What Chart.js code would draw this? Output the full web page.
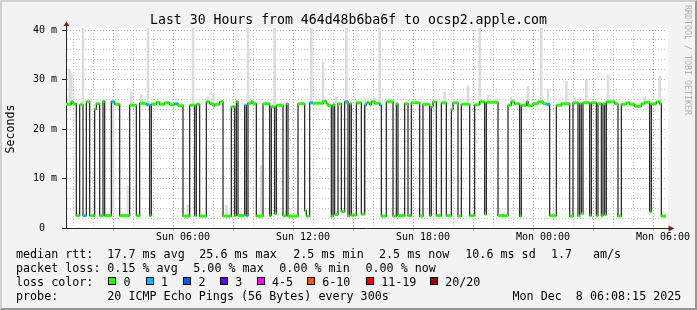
<!DOCTYPE html>
<html>
<head>
<meta charset="utf-8">
<title>Last 30 Hours from 464d48b6ba6f to ocsp2.apple.com</title>
<script src="https://cdn.jsdelivr.net/npm/chart.js@4.4.1/dist/chart.umd.min.js"></script>
<style>
  html, body { margin: 0; padding: 0; background: #f3f3f3; }
  #wrap { position: relative; width: 697px; height: 310px; overflow: hidden;
          font-family: 'DejaVu Sans Mono', monospace; color: #000; }
  #chart { position: absolute; left: 0; top: 0; }
  .title { position: absolute; left: 0; top: 11.5px; width: 697px; text-align: center;
           font-size: 13.2px; line-height: 16px; white-space: pre; }
  .mark { position: absolute; left: 682.5px; top: 5px; writing-mode: vertical-rl;
          font-size: 8.3px; line-height: 10px; color: #b0b0b0; white-space: pre; }
  .row { position: absolute; left: 0; width: 697px; height: 14px; font-size: 11.7px;
         line-height: 14px; white-space: pre; }
  .row span { position: absolute; top: 0; }
  .box { position: absolute; width: 8px; height: 8px; box-sizing: border-box;
         border: 1px solid #000; }
  .frame { position: absolute; left: 0; top: 0; width: 697px; height: 310px; box-sizing: border-box;
           border-top: 2px solid #d0d0d0; border-left: 2px solid #d0d0d0;
           border-right: 2px solid #969696; border-bottom: 2px solid #969696; pointer-events: none; }
</style>
</head>
<body>
<div id="wrap">
  <canvas id="chart" width="697" height="310"></canvas>
  <div class="title">Last 30 Hours from 464d48b6ba6f to ocsp2.apple.com</div>
  <div class="mark">RRDTOOL / TOBI OETIKER</div>
  <div class="row" style="top:246.5px">
    <span style="left:16px">median rtt:</span>
    <span style="left:107.3px">17.7 ms avg</span>
    <span style="left:199.3px">25.6 ms max</span>
    <span style="left:293.3px">2.5 ms min</span>
    <span style="left:379px">2.5 ms now</span>
    <span style="left:465.3px">10.6 ms sd</span>
    <span style="left:551px">1.7</span>
    <span style="left:593px">am/s</span>
  </div>
  <div class="row" style="top:260.6px">
    <span style="left:16px">packet loss:</span>
    <span style="left:107.3px">0.15 % avg</span>
    <span style="left:193.3px">5.00 % max</span>
    <span style="left:279.3px">0.00 % min</span>
    <span style="left:365.5px">0.00 % now</span>
  </div>
  <div class="row" id="lossRow" style="top:274.7px">
    <span style="left:16px">loss color:</span>
  </div>
  <div class="row" style="top:288.8px">
    <span style="left:16px">probe:</span>
    <span style="left:107.3px">20 ICMP Echo Pings (56 Bytes) every 300s</span>
    <span style="left:512.5px">Mon Dec  8 06:08:15 2025</span>
  </div>
  <div class="frame"></div>
</div>
<script>
// ================================
// Datos (minutos desde Sun 00:00)
// ================================
const startMinute = 9;
const endMinute = 1809;

// mediana: cada tramo empieza en segStart y dura hasta el siguiente
const segStart = [
  9, 25, 30, 40, 50, 60, 70, 80, 95, 100, 110, 120, 125, 145, 155, 170, 200, 220, 230, 250,
  260, 265, 280, 290, 305, 320, 335, 345, 360, 380, 395, 400, 410, 430, 440, 450, 455, 470, 480, 505,
  515, 520, 525, 545, 550, 555, 565, 570, 580, 600, 620, 625, 635, 640, 660, 670, 675, 705, 725, 730,
  740, 750, 780, 790, 795, 805, 810, 815, 825, 835, 845, 855, 860, 865, 880, 895, 905, 910, 920, 925,
  935, 950, 955, 970, 990, 1000, 1005, 1025, 1035, 1045, 1070, 1080, 1100, 1105, 1110, 1120, 1135, 1150, 1165, 1170,
  1185, 1195, 1220, 1235, 1250, 1265, 1270, 1305, 1335, 1345, 1355, 1370, 1375, 1390, 1395, 1410, 1425, 1440, 1450, 1460,
  1480, 1495, 1520, 1530, 1545, 1550, 1555, 1560, 1580, 1585, 1600, 1605, 1615, 1620, 1625, 1630, 1655, 1665, 1675, 1690,
  1700, 1715, 1735, 1745, 1760, 1765, 1780, 1790, 1795
];
const segValue = [
  25.0, 25.5, 25.1, 2.5, 24.9, 2.5, 25.5, 2.5, 24.0, 25.1, 2.5, 25.6, 2.5, 25.5, 25.0, 2.5, 24.8, 2.5, 25.2, 24.9,
  2.5, 25.0, 25.4, 25.0, 25.3, 24.9, 25.1, 24.7, 2.4, 24.8, 2.5, 25.0, 2.4, 25.5, 25.1, 24.7, 25.0, 25.5, 2.4, 24.5,
  2.5, 25.5, 2.5, 24.8, 2.5, 25.2, 25.5, 25.1, 2.4, 25.1, 2.5, 24.5, 2.9, 24.8, 2.5, 25.1, 2.4, 25.1, 3.5, 2.4,
  25.3, 25.2, 25.6, 25.1, 24.7, 2.4, 24.9, 2.7, 25.1, 3.3, 25.5, 2.4, 25.1, 2.6, 25.3, 2.8, 24.8, 25.3, 24.9, 25.5,
  25.2, 24.8, 2.4, 25.5, 2.4, 25.1, 2.5, 25.1, 2.5, 25.3, 2.4, 25.0, 2.5, 24.5, 25.5, 2.5, 25.3, 2.5, 24.0, 25.3,
  2.4, 25.0, 2.5, 24.9, 25.5, 2.8, 25.4, 2.5, 24.8, 25.5, 25.1, 2.4, 24.8, 25.5, 24.7, 25.1, 25.5, 25.1, 25.0, 2.5,
  24.8, 25.1, 2.4, 25.3, 2.4, 25.1, 2.9, 25.3, 2.5, 25.3, 2.5, 25.1, 2.5, 25.1, 2.7, 25.5, 25.1, 2.4, 25.0, 25.3,
  25.0, 24.6, 25.1, 25.4, 3.3, 25.1, 25.5, 25.1, 2.4
];
// pings perdidos por tramo (0 = verde, 1 = celeste)
const segLoss = [
  0, 0, 0, 0, 0, 1, 0, 0, 0, 0, 0, 0, 0, 1, 0, 0, 0, 0, 0, 1,
  0, 0, 0, 0, 0, 0, 1, 0, 0, 0, 0, 0, 0, 0, 0, 0, 0, 0, 0, 0,
  0, 0, 0, 1, 1, 0, 0, 0, 0, 0, 0, 0, 0, 0, 0, 0, 0, 0, 0, 0,
  1, 0, 0, 0, 0, 0, 0, 0, 0, 0, 1, 0, 0, 0, 0, 0, 1, 0, 0, 0,
  0, 1, 0, 0, 0, 0, 0, 0, 0, 0, 0, 0, 0, 0, 0, 0, 0, 0, 0, 0,
  0, 0, 0, 0, 0, 0, 0, 0, 0, 0, 0, 0, 0, 0, 0, 0, 0, 0, 1, 0,
  0, 0, 0, 0, 0, 0, 0, 0, 0, 0, 0, 0, 0, 0, 0, 0, 0, 0, 0, 0,
  0, 0, 0, 0, 0, 0, 0, 0, 0
];

// humo (dispersión de los pings)
const smokeTime = [20, 25, 60, 150, 195, 205, 235, 255, 375, 390, 435, 450, 490, 555, 595, 635, 745, 780, 820, 850,
  905, 915, 935, 950, 1145, 1215, 1250, 1275, 1300, 1345, 1395, 1435, 1455, 1510, 1535, 1570, 1635, 1745, 1790];
const smokeLow = [25, 25, 25, 3.3, 2.5, 25, 25, 25, 2.5, 25, 25, 25, 2.5, 25, 2.5, 25, 25, 25, 25, 25,
  3.3, 25, 25, 25, 25, 25, 25, 25, 25, 25, 25, 25, 25, 25, 25, 25, 25, 25, 25];
const smokeHigh = [32.1, 31.2, 41, 26.0, 8.5, 27.5, 26.9, 41, 4.6, 41, 26.5, 27.0, 4.6, 41, 12.7, 41, 41, 33.6, 26.5, 41,
  26.2, 26.2, 26.2, 41, 27.5, 28.7, 41, 26.9, 26.1, 26.5, 28.6, 41, 28.0, 29.6, 26.2, 29.9, 30.9, 26.5, 30.6];

const xLabelMinute = [360, 720, 1080, 1440, 1800];
const xTickLabels = ["Sun 06:00", "Sun 12:00", "Sun 18:00", "Mon 00:00", "Mon 06:00"];

const lossLabels = ["0", "1", "2", "3", "4-5", "6-10", "11-19", "20/20"];
const lossColors = ["#26ff00", "#00b8ff", "#0059ff", "#5e00ff", "#ff00ff", "#ff5500", "#ff0000", "#a10000"];

// ================================
// Estilos
// ================================
const MONO = "'DejaVu Sans Mono', monospace";
const minorGrid = "#c8c8c8";
const majorGrid = "#e4a0a0";
const axisColor = "#222222";
const arrowColor = "#8b1a1a";

// leyenda de colores de pérdida
const lossBoxX = [108.3, 145.7, 183.3, 220, 256.7, 307, 366, 430];
const lossRow = document.getElementById("lossRow");
lossLabels.forEach((lbl, i) => {
  const b = document.createElement("div");
  b.className = "box";
  b.style.left = lossBoxX[i] + "px";
  b.style.top = "2.5px";
  b.style.background = lossColors[i];
  lossRow.appendChild(b);
  const s = document.createElement("span");
  s.style.left = (lossBoxX[i] + 15.2) + "px";
  s.textContent = lbl;
  lossRow.appendChild(s);
});

// ================================
// Datasets
// ================================
const medianPts = segStart.map((t, i) => ({ x: t, y: segValue[i] }));
medianPts.push({ x: endMinute, y: segValue[segValue.length - 1] });

const bandPts = [];
segStart.forEach((t, i) => {
  const end = i + 1 < segStart.length ? segStart[i + 1] : endMinute;
  bandPts.push({ x: t, y: segValue[i], loss: segLoss[i] });
  bandPts.push({ x: end, y: segValue[i], loss: segLoss[i] });
  bandPts.push({ x: end, y: null });
});

const smokePts = smokeTime.map((t, i) => ({ x: t, y: [smokeLow[i], smokeHigh[i]] }));

const hourTicks = [];
for (let m = 60; m <= 1800; m += 60) hourTicks.push(m);

// fondo blanco del área y flechas de los ejes
const plotDecor = {
  id: "plotDecor",
  beforeDraw(chart) {
    const { ctx, chartArea: a } = chart;
    ctx.save();
    ctx.fillStyle = "#ffffff";
    ctx.fillRect(a.left, a.top - 2, a.right - a.left + 2, a.bottom - a.top + 2);
    ctx.restore();
  },
  afterDraw(chart) {
    const { ctx, chartArea: a } = chart;
    ctx.save();
    ctx.strokeStyle = axisColor;
    ctx.lineWidth = 1;
    ctx.beginPath();
    ctx.moveTo(a.left + 0.5, a.top);
    ctx.lineTo(a.left + 0.5, a.top - 4);
    ctx.moveTo(a.right, a.bottom + 0.5);
    ctx.lineTo(a.right + 3, a.bottom + 0.5);
    ctx.stroke();
    ctx.fillStyle = arrowColor;
    ctx.beginPath();
    ctx.moveTo(a.left + 0.5, a.top - 8.5);
    ctx.lineTo(a.left + 3.5, a.top - 4);
    ctx.lineTo(a.left - 2.5, a.top - 4);
    ctx.closePath();
    ctx.fill();
    ctx.beginPath();
    ctx.moveTo(a.right + 8.5, a.bottom + 0.5);
    ctx.lineTo(a.right + 2.5, a.bottom - 2.5);
    ctx.lineTo(a.right + 2.5, a.bottom + 3.5);
    ctx.closePath();
    ctx.fill();
    ctx.restore();
  }
};

new Chart(document.getElementById("chart"), {
  type: "line",
  data: {
    datasets: [
      {
        label: "loss",
        data: bandPts,
        borderColor: lossColors[0],
        borderWidth: 3,
        borderCapStyle: "butt",
        pointRadius: 0,
        spanGaps: false,
        order: 1,
        segment: {
          borderColor: ctx => lossColors[bandPts[ctx.p0DataIndex].loss || 0]
        }
      },
      {
        label: "median",
        data: medianPts,
        borderColor: "#202020",
        borderWidth: 1.2,
        stepped: true,
        pointRadius: 0,
        order: 2
      },
      {
        type: "bar",
        label: "smoke",
        data: smokePts,
        backgroundColor: "#dcdcdc",
        barThickness: 2,
        grouped: false,
        clip: { left: 0, top: 2, right: 0, bottom: 0 },
        order: 3
      }
    ]
  },
  options: {
    responsive: false,
    devicePixelRatio: 1,
    animation: false,
    events: [],
    layout: { padding: { left: 0, top: 30, right: 31, bottom: 0 } },
    plugins: { legend: { display: false }, tooltip: { enabled: false } },
    scales: {
      x: {
        type: "linear",
        min: startMinute,
        max: endMinute,
        offset: false,
        afterFit: s => { s.height = 82; },
        afterBuildTicks: s => { s.ticks = hourTicks.map(v => ({ value: v })); },
        ticks: {
          autoSkip: false,
          maxRotation: 0,
          padding: 0,
          color: "#000",
          font: { family: MONO, size: 10 },
          callback: v => {
            const i = xLabelMinute.indexOf(v);
            return i >= 0 ? xTickLabels[i] : "";
          }
        },
        grid: {
          color: ctx => (ctx.tick && ctx.tick.value % 180 === 0) ? majorGrid : minorGrid,
          lineWidth: 1,
          tickLength: 3,
          tickColor: ctx => (ctx.tick && ctx.tick.value % 180 === 0) ? majorGrid : "transparent"
        },
        border: { display: true, color: axisColor, width: 1, dash: [1, 2] }
      },
      y: {
        min: 0,
        max: 40,
        afterFit: s => { s.width = 66; },
        ticks: {
          stepSize: 2,
          autoSkip: false,
          padding: 5,
          color: "#000",
          font: { family: MONO, size: 10 },
          callback: v => v % 10 === 0 ? (v === 0 ? "0  " : v + " m") : ""
        },
        grid: {
          color: ctx => (ctx.tick && ctx.tick.value % 10 === 0) ? majorGrid : minorGrid,
          lineWidth: 1,
          tickLength: 4,
          tickColor: ctx => (ctx.tick && ctx.tick.value % 10 === 0) ? axisColor : "transparent"
        },
        border: { display: true, color: axisColor, width: 1, dash: [1, 2] },
        title: {
          display: true,
          text: "Seconds",
          color: "#000",
          font: { family: MONO, size: 11.6 },
          padding: { top: 4, bottom: 0 }
        }
      }
    }
  },
  plugins: [plotDecor]
});
</script>
</body>
</html>
